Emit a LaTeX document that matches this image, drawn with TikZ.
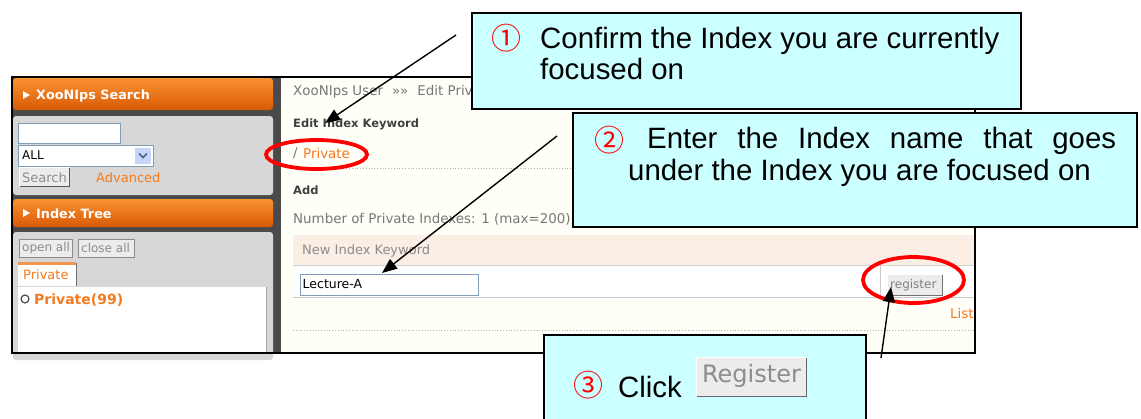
\documentclass[tikz,border=0pt]{standalone}
\usepackage{fontspec}
\setmainfont{Liberation Sans}
\newfontfamily\uifont{DejaVu Sans}
\newfontfamily\numfont{Noto Sans CJK JP}
\usetikzlibrary{arrows.meta}

\definecolor{calloutfill}{HTML}{CCFFFF}
\definecolor{weborange}{HTML}{F47A1F}
\definecolor{hdrtop}{HTML}{FA9230}
\definecolor{hdrbot}{HTML}{D85A06}
\definecolor{panelgray}{HTML}{D7D7D7}
\definecolor{sidebg}{HTML}{4A4A4A}
\definecolor{pageivory}{HTML}{FFFFF7}
\definecolor{rowpeach}{HTML}{FBEEE4}
\definecolor{fieldborder}{HTML}{7F9DB9}
\definecolor{uigray}{HTML}{777777}
\definecolor{btnface}{HTML}{ECECEC}
\definecolor{ddblue}{HTML}{C5D6FA}
\definecolor{ddnavy}{HTML}{4D6185}

\tikzset{
  uitext/.style={font=\uifont\fontsize{13.4}{15}\selectfont, inner sep=0pt, anchor=west},
  uibold/.style={font=\uifont\bfseries\fontsize{11.5}{13}\selectfont, inner sep=0pt, anchor=west},
  hdrtext/.style={font=\uifont\bfseries\fontsize{12.8}{14}\selectfont, text=white, inner sep=0pt, anchor=west},
  field/.style={draw=fieldborder, fill=white, line width=0.9pt},
  callout/.style={draw=black, line width=1.8pt, fill=calloutfill, inner sep=0pt},
  calltext/.style={font=\fontsize{29.4}{31}\selectfont, inner sep=0pt, anchor=base west},
  circnum/.style={font=\numfont\fontsize{30}{32}\selectfont, text=red, inner sep=0pt},
  ringmark/.style={draw=red, line width=3.8pt},
  pointer/.style={draw=black, line width=1.4pt, -{Triangle[length=15pt,width=12pt]}},
}

\begin{document}
\begin{tikzpicture}[x=1pt,y=-1pt]
\useasboundingbox (0,0) rectangle (1141,418);
\clip (0,0) rectangle (1141,418);

% ---------- page background ----------
\fill[pageivory] (12,77) rectangle (975,353);
\fill[sidebg] (12,77) rectangle (281,353);

% ---------- side column: search block ----------
\shade[top color=hdrtop, bottom color=hdrbot, rounded corners=3pt] (13,78) rectangle (273,110);
\fill[white] (23,91) -- (23,99) -- (30,95) -- cycle;
\node[hdrtext] (srchhdr) at (36,95.5) {XooNIps Search};
\fill[panelgray, rounded corners=3pt] (13,116) rectangle (273,195);
\draw[field] (18.5,123.5) rectangle (120,143);
\draw[field] (18.5,145) rectangle (153,166);
\node[uitext, font=\uifont\fontsize{12}{14}\selectfont, text=black] (allopt) at (22,155.5) {ALL};
\fill[ddblue] (135,147.5) rectangle (151,164);
\draw[ddnavy, line width=1.5pt] (139,153.5) -- (143,157.5) -- (147,153.5);
\fill[btnface] (19,167) rectangle (70,187);
\draw[white, line width=1pt] (19.5,187) -- (19.5,167.5) -- (70,167.5);
\draw[black!65, line width=1pt] (19.5,186.5) -- (69.5,186.5) -- (69.5,167.5);
\node[uitext, font=\uifont\fontsize{13}{15}\selectfont, text=black!45] (srchbtn) at (22,177.5) {Search};
\node[uitext, font=\uifont\fontsize{13}{15}\selectfont, text=weborange] (advlink) at (96,177.5) {Advanced};

% ---------- side column: index tree block ----------
\shade[top color=hdrtop, bottom color=hdrbot, rounded corners=3pt] (13,199) rectangle (273,227);
\fill[white] (23,209) -- (23,217) -- (30,213) -- cycle;
\node[hdrtext] (treehdr) at (36,213.5) {Index Tree};
\fill[panelgray, rounded corners=3pt] (13,232) rectangle (273,360);
\fill[btnface] (19,239) rectangle (73,258);
\draw[black!45, line width=0.8pt] (19.5,239.5) rectangle (72.5,257.5);
\node[uitext, font=\uifont\fontsize{12}{14}\selectfont, text=black!45] (openall) at (22,248.5) {open all};
\fill[btnface] (78,239) rectangle (135,258);
\draw[black!45, line width=0.8pt] (78.5,239.5) rectangle (134.5,257.5);
\node[uitext, font=\uifont\fontsize{12}{14}\selectfont, text=black!45] (closeall) at (81,248.5) {close all};
\fill[white] (18,262) rectangle (76,286);
\draw[weborange!80, line width=3pt] (18,263.5) -- (76,263.5);
\draw[black!55, line width=0.8pt] (76,263) -- (76,286);
\node[uitext, font=\uifont\fontsize{13}{15}\selectfont, text=weborange] (privtab) at (23,275) {Private};
\fill[white] (18,287) rectangle (266,353);
\draw[black!35, line width=0.8pt] (266,287) -- (266,353);
\draw[black!75, line width=1.1pt] (25,299) circle (4);
\node[uitext, font=\uifont\bfseries\fontsize{14}{16}\selectfont, text=weborange] (privroot) at (34,300) {Private(99)};

% ---------- main column ----------
\node[uitext, text=uigray] (crumb) at (293,91.5) {XooNIps User\hspace{9pt}»»\hspace{9pt}Edit Priv};
\node[uibold, text=black!75] (edithdr) at (293,124) {Edit Index Keyword};
\node[uitext, text=uigray] (slash) at (293,153.5) {/};
\node[uitext, text=weborange] (curidx) at (303,153.5) {Private};
\draw[black!30, dotted, line width=0.8pt] (293,168) -- (974,168);
\node[uibold, text=black!75] (addhdr) at (293,190) {Add};
\node[uitext, text=uigray] (count) at (293,219) {Number of Private Indexes: 1 (max=200)};

\fill[rowpeach] (293,235) rectangle (974,265);
\node[uitext, font=\uifont\fontsize{13}{15}\selectfont, text=black!45] (colhdr) at (302,250.5) {New Index Keyword};
\fill[white] (293,265) rectangle (974,297);
\draw[black!18, line width=1pt] (293,265.5) -- (974,265.5);
\draw[black!22, line width=1.5pt] (293,297.5) -- (974,297.5);
\draw[black!20, line width=1pt] (880,266) -- (880,297);
\draw[field] (300,274) rectangle (478,295);
\node[uitext, font=\uifont\fontsize{12.5}{14}\selectfont, text=black] (kwinput) at (302.5,284.5) {Lecture-A};
\fill[btnface] (887,274) rectangle (943,296);
\draw[white, line width=1pt] (887.5,296) -- (887.5,274.5) -- (943,274.5);
\draw[black!55, line width=1pt] (887.5,295.5) -- (942.5,295.5) -- (942.5,274.5);
\node[uitext, font=\uifont\fontsize{12}{14}\selectfont, text=black!50] (regbtn) at (890,285) {register};
\node[uitext, text=weborange] (listlink) at (950,313.5) {List};
\draw[black!30, dotted, line width=0.8pt] (293,330) -- (974,330);

% ---------- page frame ----------
\draw[black, line width=2pt] (12,77) rectangle (975,353);

% ---------- highlights ----------
\draw[ringmark] (316.5,154.5) ellipse [x radius=50.5, y radius=14.5];
\draw[ringmark] (913.5,280) ellipse [x radius=50.5, y radius=23];

% ---------- pointers ----------
\coordinate (p1from) at (456,35);
\coordinate (p1to) at (325,123);
\coordinate (p2from) at (557,136);
\coordinate (p2to) at (382,273);
\coordinate (p3from) at (881,358);
\coordinate (p3to) at (891,287);
\draw[pointer] (p1from) -- (p1to);
\draw[pointer] (p2from) -- (p2to);
\draw[pointer] (p3from) -- (p3to);

% ---------- callouts ----------
\node[callout, anchor=north west, minimum width=549pt, minimum height=96pt] (note1) at (471,12) {};
\node[circnum] (num1) at (506,38.5) {①};
\node[calltext] (note1a) at (540,48) {Confirm the Index you are currently};
\node[calltext] (note1b) at (540,79) {focused on};

\node[callout, anchor=north west, minimum width=564pt, minimum height=114pt] (note2) at (572,112) {};
\node[circnum] (num2) at (609,140.5) {②};
\node[calltext] (note2a) at (647,148) {\makebox[469pt][s]{Enter the Index name that goes}};
\node[calltext] (note2b) at (628,180) {under the Index you are focused on};

\node[callout, anchor=north west, minimum width=322pt, minimum height=100pt] (note3) at (543,334) {};
\node[circnum] (num3) at (588,385) {③};
\node[calltext] (note3a) at (618,397) {Click};
\fill[btnface] (696,357) rectangle (807,397);
\draw[white, line width=1.2pt] (696.5,397) -- (696.5,357.5) -- (807,357.5);
\draw[black!60, line width=1.4pt] (696.5,396.5) -- (806.5,396.5) -- (806.5,357.5);
\node[font=\uifont\fontsize{24}{26}\selectfont, text=black!45, inner sep=0pt] (bigreg) at (751.5,376) {Register};
\end{tikzpicture}
\end{document}
